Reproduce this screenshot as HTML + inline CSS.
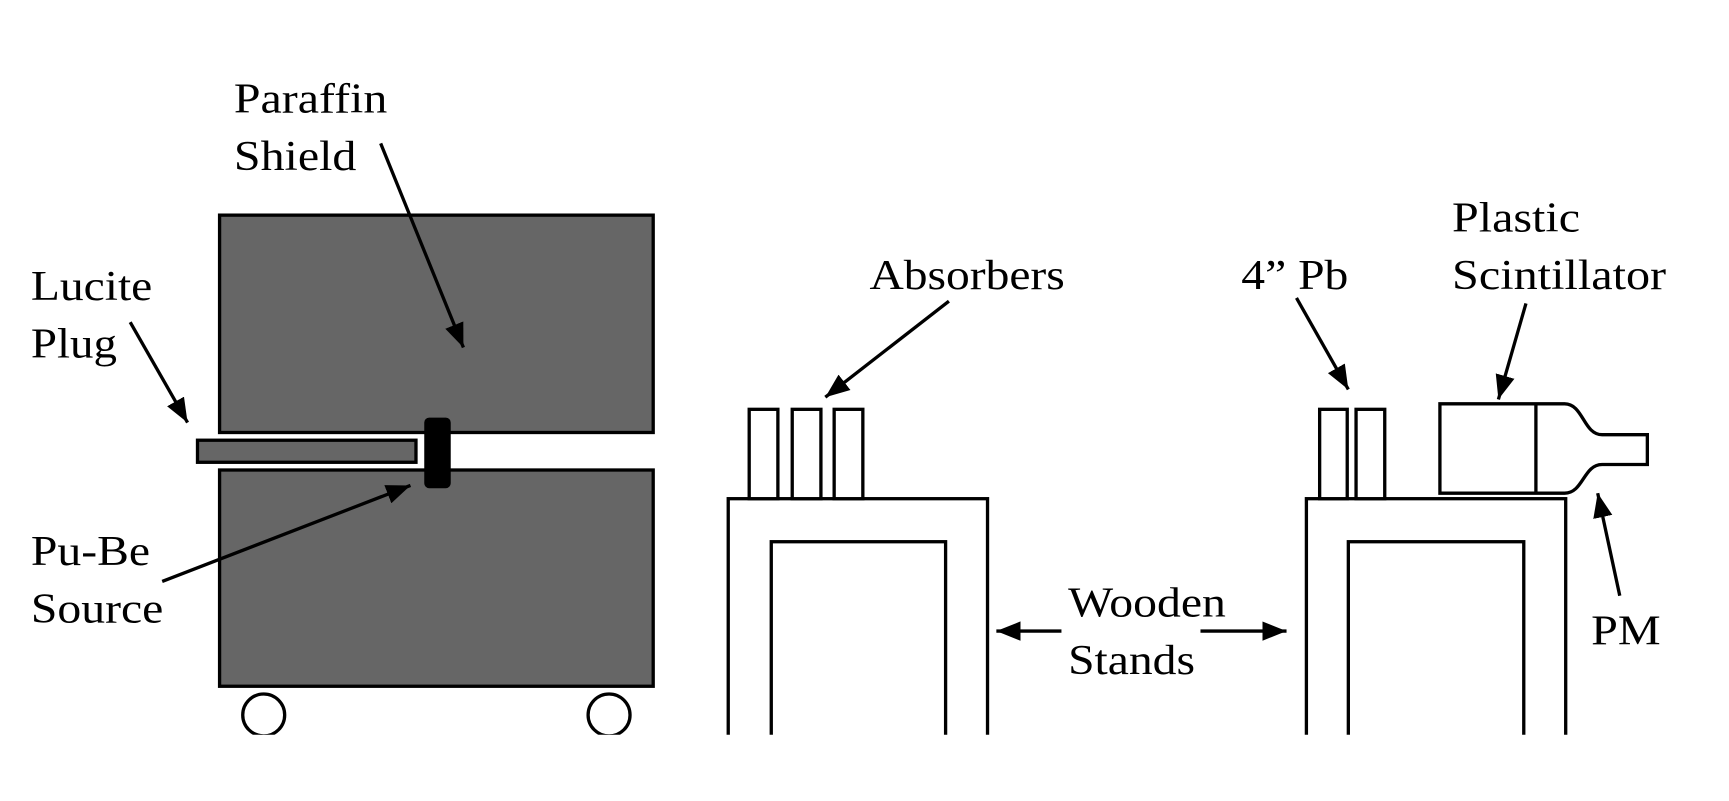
<!DOCTYPE html>
<html><head><meta charset="utf-8"><style>
html,body{margin:0;padding:0;background:#fff;}
svg{display:block;}
text{font-family:"Liberation Serif",serif;font-size:38px;fill:#000;}
</style></head><body>
<svg width="1729" height="801" viewBox="0 0 1567 726" preserveAspectRatio="none">
<defs>
<marker id="ah2" viewBox="0 0 10 10" refX="10" refY="5" markerWidth="22" markerHeight="22" markerUnits="userSpaceOnUse" orient="auto">
<path d="M0,1 L10,5 L0,9 z" fill="#000"/></marker>
<clipPath id="cl"><rect x="0" y="0" width="1567" height="666"/></clipPath>
</defs>
<rect width="1567" height="726" fill="#fff"/>
<g clip-path="url(#cl)" stroke="#000" stroke-width="3">
<rect x="199" y="195" width="393" height="197" fill="#666"/>
<rect x="199" y="426" width="393" height="196" fill="#666"/>
<circle cx="239" cy="648" r="19" fill="#fff"/>
<circle cx="552" cy="648" r="19" fill="#fff"/>
<rect x="179" y="399" width="198" height="20" fill="#666"/>
<rect x="386" y="380" width="21" height="61" rx="3" fill="#000"/>
<rect x="660" y="452" width="235" height="260" fill="#fff"/>
<rect x="699" y="491" width="158" height="220" fill="#fff"/>
<rect x="679" y="371" width="26" height="81" fill="#fff"/>
<rect x="718" y="371" width="26" height="81" fill="#fff"/>
<rect x="756" y="371" width="26" height="81" fill="#fff"/>
<rect x="1184" y="452" width="235" height="260" fill="#fff"/>
<rect x="1222" y="491" width="159" height="220" fill="#fff"/>
<rect x="1196" y="371" width="25" height="81" fill="#fff"/>
<rect x="1229" y="371" width="26" height="81" fill="#fff"/>
<path d="M1305,366 H1418 C1435,366 1435,394 1452,394 H1493 V421 H1452 C1435,421 1435,447 1418,447 H1305 Z" fill="#fff"/>
<line x1="1392" y1="366" x2="1392" y2="447"/>
</g>
<g stroke="#000" stroke-width="3" fill="none">
<line x1="345" y1="130" x2="420" y2="315" marker-end="url(#ah2)"/>
<line x1="118" y1="292" x2="170" y2="383" marker-end="url(#ah2)"/>
<line x1="147" y1="527" x2="372" y2="440" marker-end="url(#ah2)"/>
<line x1="860" y1="273" x2="748" y2="360" marker-end="url(#ah2)"/>
<line x1="1175" y1="270" x2="1222" y2="353" marker-end="url(#ah2)"/>
<line x1="1383" y1="275" x2="1358" y2="362" marker-end="url(#ah2)"/>
<line x1="1468" y1="540" x2="1448" y2="447" marker-end="url(#ah2)"/>
<line x1="962" y1="572" x2="903" y2="572" marker-end="url(#ah2)"/>
<line x1="1088" y1="572" x2="1166" y2="572" marker-end="url(#ah2)"/>
</g>
<text x="212" y="102" textLength="139" lengthAdjust="spacingAndGlyphs">Paraffin</text>
<text x="212" y="154" textLength="111" lengthAdjust="spacingAndGlyphs">Shield</text>
<text x="28" y="272" textLength="110" lengthAdjust="spacingAndGlyphs">Lucite</text>
<text x="28" y="324" textLength="78" lengthAdjust="spacingAndGlyphs">Plug</text>
<text x="28" y="512" textLength="108" lengthAdjust="spacingAndGlyphs">Pu-Be</text>
<text x="28" y="564" textLength="120" lengthAdjust="spacingAndGlyphs">Source</text>
<text x="788" y="262" textLength="177" lengthAdjust="spacingAndGlyphs">Absorbers</text>
<text x="1125" y="262" textLength="97" lengthAdjust="spacingAndGlyphs">4” Pb</text>
<text x="1316" y="210" textLength="116" lengthAdjust="spacingAndGlyphs">Plastic</text>
<text x="1316" y="262" textLength="194" lengthAdjust="spacingAndGlyphs">Scintillator</text>
<text x="968" y="559" textLength="143" lengthAdjust="spacingAndGlyphs">Wooden</text>
<text x="968" y="611" textLength="115" lengthAdjust="spacingAndGlyphs">Stands</text>
<text x="1442" y="584" textLength="63" lengthAdjust="spacingAndGlyphs">PM</text>
</svg>
</body></html>
